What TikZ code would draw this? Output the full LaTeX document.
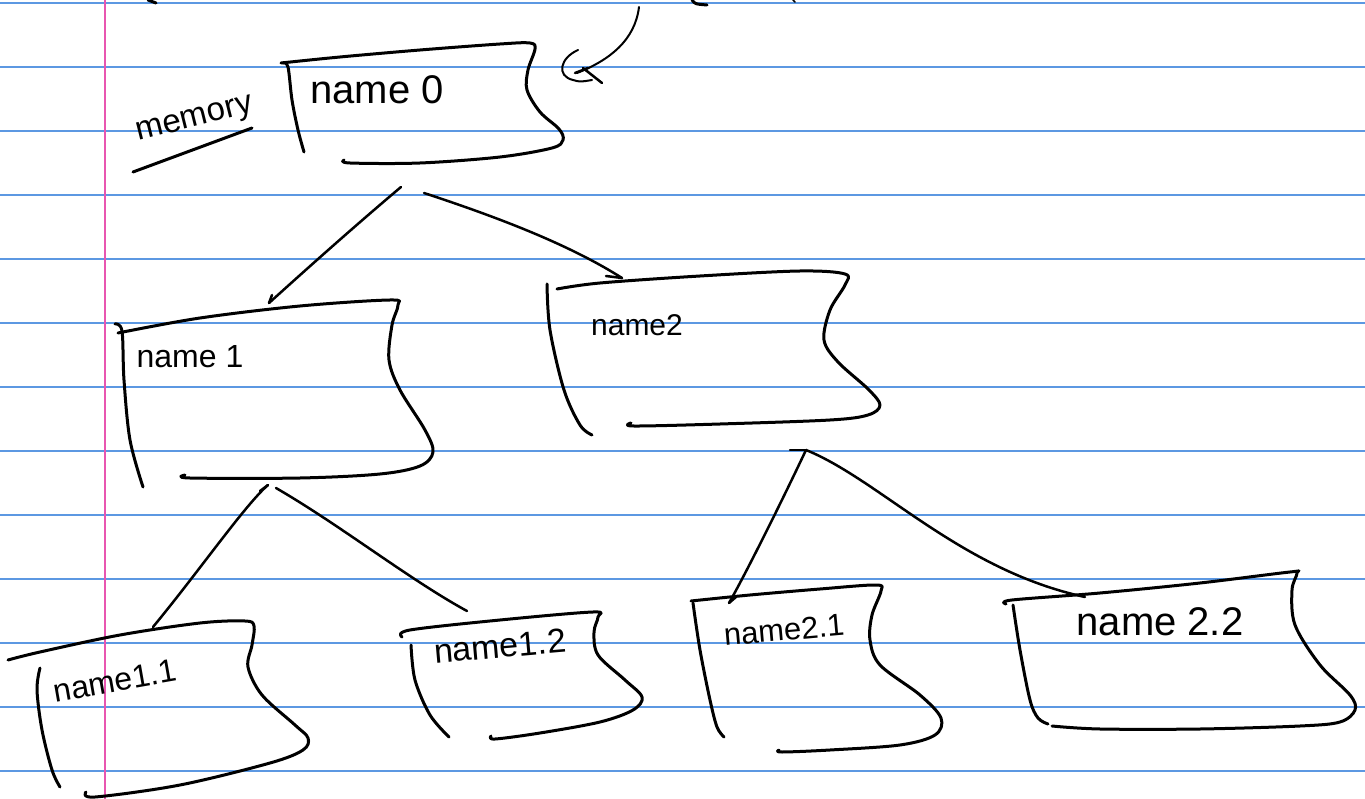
\documentclass[tikz,border=0pt]{standalone}
\usepackage{fontspec}
\setmainfont{Liberation Sans}
\definecolor{rule}{RGB}{92,152,226}
\definecolor{margin}{RGB}{232,86,176}
\tikzset{
  ink/.style={line width=3pt, line cap=round, line join=round, black},
  wire/.style={line width=2.5pt, line cap=round, line join=round, black},
  label/.style={inner sep=0pt, text=black},
}
\begin{document}
\begin{tikzpicture}[x=1pt,y=-1pt]
  % paper
  \useasboundingbox (0,0) rectangle (1365,799);
  \fill[white] (0,0) rectangle (1365,799);
  \foreach \y in {3,67,...,771}
    \draw[rule, line width=1.2pt] (0,\y) -- (1365,\y);
  \draw[margin, line width=1.6pt] (105,0) -- (105,799);

  % stray strokes cut by the top edge
  \draw[ink] (148,0) -- (156,3);
  \draw[ink] (692,0) .. controls (695,4) .. (707,5);
  \draw[ink, line width=1.6pt] (793,0) -- (795,2);

  % ---------- labels ----------
  \node[label, font=\fontsize{33}{36}\selectfont, rotate=14] (mem) at (195,121) {memory};
  \node[label, font=\fontsize{40}{44}\selectfont] (n0) at (377,90) {name 0};
  \node[label, font=\fontsize{32}{35}\selectfont] (n1) at (190,357) {name 1};
  \node[label, font=\fontsize{30}{33}\selectfont] (n2) at (637,325) {name2};
  \node[label, font=\fontsize{32}{35}\selectfont, rotate=10] (n11) at (115,681) {name1.1};
  \node[label, font=\fontsize{34}{37}\selectfont, rotate=5] (n12) at (500,646) {name1.2};
  \node[label, font=\fontsize{31}{34}\selectfont, rotate=5] (n21) at (784,630) {name2.1};
  \node[label, font=\fontsize{40}{44}\selectfont] (n22) at (1160,622) {name 2.2};

  % underline under "memory"
  \draw[ink] (133,172) -- (252,128);

  % ---------- hand-drawn boxes ----------
  % name 0
  \draw[ink] plot[smooth, tension=0.55] coordinates {(281,63) (340,57) (420,50) (500,44) (530,43) (535,49) (528,70) (527,90) (540,112) (559,129) (563,140) (552,148) (500,157) (420,163) (350,163) (344,160)};
  \draw[ink] plot[smooth, tension=0.55] coordinates {(283,63) (288,67) (292,100) (298,130) (304,152)};
  % name 1
  \draw[ink] plot[smooth, tension=0.55] coordinates {(118,333) (200,318) (300,306) (390,300) (398,305) (392,325) (389,360) (400,390) (425,430) (433,452) (420,466) (380,474) (300,478) (190,478) (185,475)};
  \draw[ink] plot[smooth, tension=0.55] coordinates {(115,324) (122,331) (124,380) (130,440) (143,487)};
  % name2
  \draw[ink] plot[smooth, tension=0.55] coordinates {(557,289) (600,283) (700,276) (800,271) (845,274) (845,285) (830,310) (824,340) (838,362) (868,389) (880,405) (868,415) (830,420) (720,424) (634,426) (631,423)};
  \draw[ink] plot[smooth, tension=0.55] coordinates {(547,284) (550,330) (564,390) (580,425) (592,435)};
  % name1.1
  \draw[ink] plot[smooth, tension=0.55] coordinates {(8,660) (40,652) (120,635) (200,623) (245,621) (254,626) (252,645) (248,667) (262,695) (295,725) (308,738) (303,750) (270,763) (180,785) (95,797) (86,792)};
  \draw[ink] plot[smooth, tension=0.55] coordinates {(40,668) (37,690) (42,730) (52,770) (60,787)};
  % name1.2
  \draw[ink] plot[smooth, tension=0.55] coordinates {(402,637) (410,630) (500,620) (593,612) (598,617) (594,632) (598,655) (625,680) (642,697) (633,710) (600,722) (540,733) (495,739) (491,736)};
  \draw[ink] plot[smooth, tension=0.55] coordinates {(411,645) (415,680) (430,715) (449,737)};
  % name2.1
  \draw[ink] plot[smooth, tension=0.55] coordinates {(691,601) (750,595) (820,589) (876,585) (881,591) (872,615) (870,640) (880,665) (920,695) (941,718) (935,735) (900,745) (830,750) (782,752) (779,750)};
  \draw[ink] plot[smooth, tension=0.55] coordinates {(693,603) (700,650) (710,700) (717,727) (724,737)};
  % name 2.2
  \draw[ink] plot[smooth, tension=0.55] coordinates {(1006,604) (1012,600) (1100,593) (1200,583) (1290,572) (1297,573) (1292,590) (1295,625) (1320,665) (1350,695) (1355,710) (1340,722) (1300,726) (1200,729) (1100,729) (1052,726)};
  \draw[ink] plot[smooth, tension=0.55] coordinates {(1013,605) (1020,650) (1030,700) (1038,718) (1048,724)};

  % ---------- connector end points ----------
  \coordinate (n0-l) at (401,187);
  \coordinate (n0-r) at (424,193);
  \coordinate (n1-t) at (269,303);
  \coordinate (n2-t) at (622,278);
  \coordinate (n1-l) at (268,485);
  \coordinate (n1-r) at (276,488);
  \coordinate (n11-t) at (153,627);
  \coordinate (n12-t) at (467,611);
  \coordinate (n2-b) at (806,450);
  \coordinate (n21-t) at (729,603);
  \coordinate (n22-t) at (1085,597);
  \coordinate (n0-mark) at (577,73);
  \coordinate (note) at (639,7);

  % ---------- connectors ----------
  \draw[wire] (n0-l) .. controls (350,230) and (300,275) .. (n1-t);
  \draw[wire] (n1-t) -- ++(3,-8);
  \draw[wire] (n0-r) .. controls (500,218) and (570,245) .. (n2-t);
  \draw[wire] (n2-t) -- ++(-16,-2);
  \draw[wire] (n1-l) .. controls (245,505) and (200,570) .. (n11-t);
  \draw[wire] (n1-l) -- ++(-8,6);
  \draw[wire] (n1-r) .. controls (340,525) and (410,580) .. (n12-t);
  \draw[wire] (n2-b) .. controls (780,505) and (745,575) .. (n21-t);
  \draw[wire] (n21-t) -- ++(7,-6);
  \draw[wire] (n2-b) .. controls (880,480) and (960,570) .. (n22-t);
  \draw[wire] (n2-b) -- ++(-16,0);

  % note arrow and mark beside name 0
  \draw[wire, line width=2pt] (note) .. controls (635,40) and (610,60) .. (n0-mark);
  \draw[wire, line width=2pt] (578,50) .. controls (560,58) and (556,76) .. (573,80) .. controls (580,82) .. (592,80);
  \draw[wire] (575,73) -- (588,68);
  \draw[wire] (583,68) -- (602,83);
\end{tikzpicture}
\end{document}
